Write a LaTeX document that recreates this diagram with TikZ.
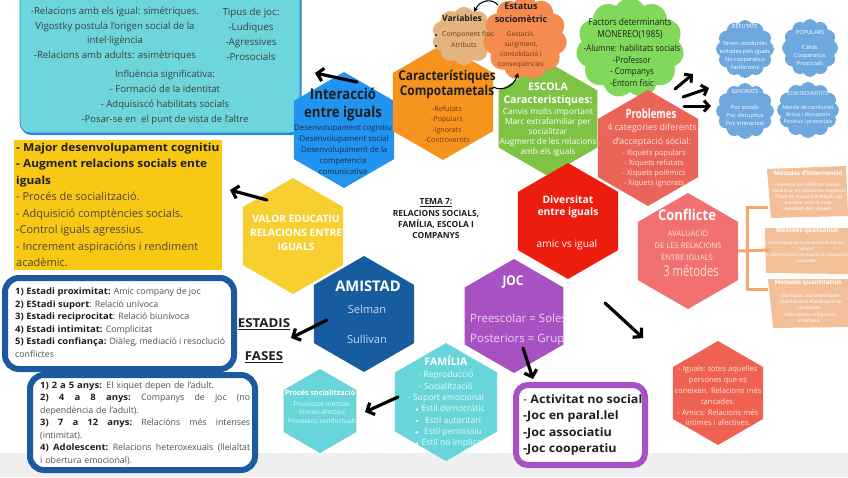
\documentclass[tikz,border=0pt]{standalone}
\usepackage{fontspec}
\setmainfont{Open Sans}
\newfontfamily\condA{Open Sans}[FakeStretch=0.75]
\newfontfamily\condB{Open Sans}[FakeStretch=0.88]
\newfontfamily\wideb{Open Sans}[FakeStretch=1.08]
\usetikzlibrary{shapes.geometric,shapes.symbols,arrows.meta}
\definecolor{cCyan}{HTML}{6CD6DC}
\definecolor{cCyanB}{HTML}{2C86DA}
\definecolor{cYel}{HTML}{F8C814}
\definecolor{cInter}{HTML}{2194F2}
\definecolor{cOrange}{HTML}{F7941E}
\definecolor{cEscola}{HTML}{7EC343}
\definecolor{cRed}{HTML}{EC1D0D}
\definecolor{cProbl}{HTML}{EA6557}
\definecolor{cConfl}{HTML}{F07170}
\definecolor{cIguals}{HTML}{EF6251}
\definecolor{cJoc}{HTML}{A751C3}
\definecolor{cAmist}{HTML}{165C9E}
\definecolor{cFam}{HTML}{67D5D9}
\definecolor{cValor}{HTML}{F8CF30}
\definecolor{cTan}{HTML}{E4B47F}
\definecolor{cOrCloud}{HTML}{F68B4F}
\definecolor{cGreenCloud}{HTML}{80D95A}
\definecolor{cBlueCloud}{HTML}{6EA8DE}
\definecolor{cMeth}{HTML}{F3BF99}
\definecolor{cBracket}{HTML}{F7A66A}
\definecolor{cFrame}{HTML}{1B5A9E}
\definecolor{cGrayBand}{HTML}{EFEFEF}
\definecolor{cDark}{HTML}{1E1E1E}
\definecolor{cGrayT}{HTML}{505050}
\definecolor{cCyTxt}{HTML}{3A4044}
\definecolor{cYTxt}{HTML}{4E4636}
\definecolor{cNavy}{HTML}{1B2B4B}
\definecolor{cBrown}{HTML}{6E3A12}
\definecolor{cLightRed}{HTML}{FDE2DA}
\definecolor{cLav}{HTML}{EBD5F5}
\definecolor{cLBlue}{HTML}{C7D9F0}
\definecolor{cLCyan}{HTML}{E6FAFA}
\newcommand\myfs[2]{\fontsize{#1}{#2}\selectfont}
\newcommand\yb[1]{{\wideb\bfseries\color{cDark}#1}}
\begin{document}
\begin{tikzpicture}[x=1pt,y=-1pt,
 hexa/.style={regular polygon, regular polygon sides=6, shape border rotate=30, inner sep=0pt, minimum size=#1, draw=none},
 blob/.style={cloud, cloud puffs=#1, cloud puff arc=120, inner sep=0pt, draw=none},
 txt/.style={inner sep=0pt, align=center, anchor=north},
 txtl/.style={inner sep=0pt, align=left, anchor=north west},
 bigarrow/.style={line width=3.2pt, line cap=round, line join=round, -{Straight Barb[length=6pt,width=13pt]}},
 curvarrow/.style={line width=1.1pt, -{Stealth[length=5pt,width=5pt]}},
 boxframe/.style={line width=6pt, draw=cFrame, fill=white, rounded corners=14pt},
 dotmark/.style={circle, fill=cLCyan, inner sep=0pt, minimum size=3pt},
]
\useasboundingbox (0,0) rectangle (848,477);
\clip (0,0) rectangle (848,477);
\fill[white] (0,0) rectangle (848,477);
\fill[cGrayBand] (0,453) rectangle (848,477);

% top-left cyan box
\fill[cCyanB, rounded corners=10pt] (21,-20) rectangle (301.5,135);
\draw[fill=cCyan, draw=cCyanB, line width=0.8pt, rounded corners=10pt] (20,-20) rectangle (300,133);
\node[txt, font=\myfs{9.6}{14.5}, text=cCyTxt] (cy1) at (115,7) {-Relacions amb els igual: simétriques.\\Vigostky postula l'origen social de la\\intel·ligència\\-Relacions amb adults: asimètriques};
\node[txt, font=\myfs{9.8}{15}, text=cCyTxt] (cy2) at (251,8) {Tipus de joc:\\-Ludiques\\-Agressives\\-Prosocials};
\node[txt, font=\myfs{9.5}{15}, text=cCyTxt] (cy3) at (165,70) {Influència significativa:\\- Formació de la identitat\\- Adquisiscó habilitats socials\\-Posar-se en\ \ el punt de vista de l'altre};

% yellow box
\fill[cYel] (14,140) rectangle (222,270);
\node[txtl, font=\myfs{11}{16.5}, text=cYTxt] (yl) at (16,142.5) {\yb{- Major desenvolupament cognitiu}\\\yb{- Augment relacions socials ente}\\\yb{iguals}\\- Procés de socialització.\\- Adquisició comptències socials.\\-Control iguals agressius.\\- Increment aspiracións i rendiment\\acadèmic.};

% estadis / fases boxes
\draw[boxframe] (5,278) rectangle (234,369);
\node[txtl, font=\myfs{8.8}{12.6}, text=cGrayT] (est) at (15,287.6) {\yb{1) Estadi proximitat:} Amic company de joc\\\yb{2) EStadi suport}: Relació unívoca\\\yb{3) Estadi reciprocitat}: Relació biunívoca\\\yb{4) Estadi intimitat:} Complicitat\\\yb{5) Estadi confiança:} Diàleg, mediació i resoclució\\conflictes};
\draw[boxframe] (30,375) rectangle (255,470);
\node[txtl, text width=210pt, font=\myfs{8.8}{12.5}, text=cGrayT] (fas) at (40,381.6) {\yb{1) 2 a 5 anys:} El xiquet depen de l'adult.\\\makebox[210pt][l]{\yb{2)}\hfill\yb{4}\hfill\yb{a}\hfill\yb{8}\hfill\yb{anys:}\hfill Companys\hfill de\hfill joc\hfill (no}\\dependència de l'adult).\\\makebox[210pt][l]{\yb{3)}\hfill\yb{7}\hfill\yb{a}\hfill\yb{12}\hfill\yb{anys:}\hfill Relacións\hfill més\hfill intenses}\\(intimitat).\\\makebox[210pt][l]{\yb{4)}\hfill\yb{Adolescent:}\hfill Relacions\hfill heteroxexuals\hfill (lleialtat}\\i obertura emocional).};
\node[font=\wideb\bfseries\myfs{12.3}{14}, text=cDark] (estadis) at (264,324) {\underline{ESTADIS}};
\node[font=\wideb\bfseries\myfs{12.3}{14}, text=cDark] (fases) at (264,357) {\underline{FASES}};

% purple list box
\draw[line width=6pt, draw=cJoc, fill=white, rounded corners=12pt] (516,385) rectangle (645,465);
\node[txtl, font=\wideb\bfseries\myfs{11.6}{16.5}, text=cDark] (jl) at (523,394) {{\mdseries -} Activitat no social\\-Joc en paral.lel\\-Joc associatiu\\-Joc cooperatiu};

% hexagons and clouds
\node[hexa=116pt, fill=cInter] (inter) at (344,130) {};
\node[hexa=116pt, fill=cOrange] (carac) at (443,102) {};
\node[blob=10, fill=cTan, minimum width=64pt, minimum height=58pt, aspect=1.1] (vars) at (464,36) {};
\node[hexa=114pt, fill=cEscola] (escola) at (548,119) {};
\node[blob=11, fill=cOrCloud, minimum width=84pt, minimum height=84pt, aspect=1] (estat) at (525,38) {};
\node[blob=11, fill=cGreenCloud, minimum width=108pt, minimum height=100pt, aspect=1.08] (factors) at (630,48) {};
\node[hexa=116pt, fill=cProbl] (probl) at (648,148) {};
\node[hexa=116pt, fill=cRed] (divers) at (568,221) {};
\node[hexa=116pt, fill=cConfl] (confl) at (688,251) {};
\node[hexa=116pt, fill=cValor] (valor) at (293,236) {};
\node[hexa=116pt, fill=cAmist] (amist) at (364,314) {};
\node[hexa=114pt, fill=cJoc] (joc) at (514,316) {};
\node[hexa=118pt, fill=cFam] (famil) at (446,402) {};
\node[hexa=84pt, fill=cFam] (proces) at (320,411) {};
\node[hexa=104pt, fill=cIguals] (iguals) at (718,393) {};
\node[blob=12, fill=cBlueCloud, minimum width=58pt, minimum height=58pt, aspect=1] (ref) at (745,49) {};
\node[blob=12, fill=cBlueCloud, minimum width=56pt, minimum height=58pt, aspect=0.97] (pop) at (810,48) {};
\node[blob=12, fill=cBlueCloud, minimum width=58pt, minimum height=56pt, aspect=1.04] (ign) at (745,111) {};
\node[blob=12, fill=cBlueCloud, minimum width=62pt, minimum height=56pt, aspect=1.1] (contr) at (808,110) {};

% method boxes
\fill[cMeth] (767,169) -- (846,166) -- (848,216) -- (771,218) -- cycle;
\fill[cMeth] (765,228) -- (848,228) -- (848,274) -- (766,273) -- cycle;
\fill[cMeth] (768,279) -- (848,279) -- (848,327) -- (773,328) -- cycle;
\coordinate (m1) at (768,207);
\coordinate (m2) at (770,250);
\coordinate (m3) at (768,289);
\coordinate (mv1) at (747,207);
\coordinate (mv3) at (747,289);
\draw[cBracket, line width=3pt] (confl.east) -- (m2);
\draw[cBracket, line width=3pt] (m1) -- (mv1) -- (mv3) -- (m3);

% texts in hexagons
\node[txt, font=\condB\bfseries\myfs{15}{18}, text=cDark] (interT) at (343,87.5) {Interacció\\entre iguals};
\node[txt, font=\myfs{7.8}{11.2}, text=cNavy] (interL) at (343,124) {Desenvolupament cognitiu\\-Desenvolupament social\\-Desenvolupament de la\\competencia\\comunicativa};
\node[txt, font=\condB\bfseries\myfs{13.5}{15}, text=cDark] (caracT) at (447,69.5) {Característiques\\Compotametals};
\node[txt, font=\myfs{7.1}{10.5}, text=cBrown] (caracL) at (447,105.5) {-Refutats\\-Populars\\-Ignorats\\-Controvertits};
\node[txt, font=\bfseries\myfs{10.5}{13}, text=white] (escT) at (548,83) {ESCOLA\\Caracteristiques:};
\node[txt, font=\myfs{8.3}{10}, text=white] (escL) at (548,108) {Canvis molts important\\Marc extrafamiliar per\\socialitzar\\Augment de les relacions\\amb els iguals};
\node[txt, font=\bfseries\myfs{10.3}{12.5}, text=white] (divT) at (568,195) {Diversitat\\entre iguals};
\node[txt, font=\myfs{10.2}{12}, text=white] (divL) at (567,240) {amic vs igual};
\node[txt, font=\condA\bfseries\myfs{12.8}{16}, text=white] (probT) at (651,108.5) {Problemes};
\node[txt, font=\myfs{8.9}{14}, text=cLightRed] (probS) at (652,123.5) {4 categories diferents\\d'acceptació social:};
\node[txt, font=\myfs{7.5}{10}, text=cLightRed] (probL) at (654,150) {- Xiquets populars\\- Xiquets refutats\\- Xiquets polèmics\\- Xiquets ignorats};
\node[txt, font=\condB\bfseries\myfs{14.8}{16}, text=white] (confT) at (687,208.5) {Conflicte};
\node[txt, font=\myfs{7.7}{12}, text=cLightRed] (confS) at (688,229) {AVALUACIÓ\\DE LES RELACIONS\\ENTRE IGUALS:};
\node[txt, font=\condA\myfs{15}{16}, text=cLightRed] (confM) at (691,264.5) {3 métodes};
\node[txt, font=\myfs{7.6}{10.8}, text=cLightRed] (igL) at (718,366) {- Iguals: totes aquelles\\persones que es\\coneixen. Relacions més\\tancades.\\- Amics: Relacions més\\íntimes i afectives.};
\node[txt, font=\condB\bfseries\myfs{13.5}{15}, text=white] (jocT) at (513,275.5) {JOC};
\node[txtl, font=\myfs{11.5}{20}, text=cLav] (jocL) at (470,314) {Preescolar = Soles\\Posteriors = Grup};
\node[txt, font=\bfseries\myfs{14.7}{16}, text=white] (amT) at (368,281) {AMISTAD};
\node[txt, font=\myfs{11.1}{30}, text=cLBlue] (amL) at (367,304.5) {Selman\\Sullivan};
\node[txt, font=\bfseries\myfs{10.5}{12}, text=white] (famT) at (446,356) {FAMÍLIA};
\node[txt, font=\myfs{8.6}{11.4}, text=cLCyan] (famL) at (446,371) {- Reproducció\\- Socialització\\- Suport emocional};
\node[dotmark] (fb1) at (417,409.5) {};
\node[dotmark] (fb2) at (417,420.9) {};
\node[dotmark] (fb3) at (417,432.3) {};
\node[dotmark] (fb4) at (417,443.7) {};
\node[txt, font=\myfs{8.6}{11.4}, text=cLCyan] (famE) at (453,405) {Estil democràtic\\Estil autoritari\\Estil permissiu\\Estil no implicat};
\node[txt, font=\bfseries\myfs{7.3}{9}, text=white] (prT) at (320,389.5) {Procés socialització};
\node[txt, font=\myfs{6.5}{8.5}, text=cLCyan] (prL) at (320,401) {- Processos mentals\\- Vincles afectius\\- Processos conductuals};
\node[txt, font=\bfseries\myfs{10.2}{14}, text=white] (valT) at (296,215) {VALOR EDUCATIU\\RELACIONS ENTRE\\IGUALS};
\node[txt, font=\bfseries\myfs{8.4}{11.4}, text=cDark] (tema) at (436,198.5) {\underline{TEMA 7:}\\RELACIONS SOCIALS,\\FAMÍLIA, ESCOLA I\\COMPANYS};

% cloud texts
\node[txt, font=\bfseries\myfs{8.6}{11}, text=cDark] (varT) at (462,14.5) {Variables};
\node[circle, fill=cDark, inner sep=0pt, minimum size=2.4pt] (vb1) at (436,35) {};
\node[circle, fill=cDark, inner sep=0pt, minimum size=2.4pt] (vb2) at (436,46) {};
\node[txtl, font=\myfs{6.9}{11}, text=cBrown] (varL) at (442,31) {Component fisic\\\hspace{9pt}Atributs};
\node[txt, font=\bfseries\myfs{9}{13}, text=cDark] (estT) at (521,2.5) {Estatus\\sociomètric};
\node[txt, font=\myfs{6.6}{10}, text=cBrown] (estL) at (521,31) {Gestació,\\surgiment,\\consolidació i\\conseqüències};
\node[txt, font=\condB\myfs{9.5}{12}, text=cDark] (facT) at (630,18) {Factors determinants\\MONEREO(1985)};
\node[txt, font=\condB\myfs{9}{11.7}, text=cDark] (facL) at (632,44.5) {-Alumne: habilitats socials\\-Professor\\- Companys\\-Entorn fisic};
\node[txt, font=\myfs{5.6}{7}, text=white] (refT) at (745,24.5) {REFUTATS};
\node[txt, font=\myfs{5.6}{8}, text=white] (refL) at (745,41) {Tenen conductes\\evitades pels iguals\\No cooperatius\\Fanfarrons};
\node[txt, font=\myfs{5.6}{7}, text=white] (popT) at (810,30.5) {POPULARS};
\node[txt, font=\myfs{5.6}{8}, text=white] (popL) at (810,45) {Càlids\\Cooperatius\\Prosocials};
\node[txt, font=\myfs{5.6}{7}, text=white] (ignT) at (745,89.5) {IGNORATS};
\node[txt, font=\myfs{5.6}{8}, text=white] (ignL) at (745,105) {Poc socials\\Poc disruptius\\Poc interactius};
\node[txt, font=\myfs{5.2}{7}, text=white] (conT) at (808,91.5) {CONTROVERTITS};
\node[txt, font=\myfs{5.3}{7.2}, text=white] (conL) at (808,105.2) {Mescla de conductes\\Actius i disruptors\\Positius i prosocials};

% method texts
\node[txt, font=\bfseries\myfs{6.2}{7}, text=white] (m1T) at (808,171) {Métodes d'intervenció};
\node[txt, font=\myfs{4.7}{6}, text=white] (m1L) at (808,182.5) {- Entrenar les habilitats socials.\\- Modificar les conductes negatives\\- Posar en marxa estratègies per\\a acabar amb la mala\\reputació dels xiquets.};
\node[txt, font=\bfseries\myfs{6.2}{7}, text=white] (m2T) at (807,228) {Métodes qualitatius};
\node[txt, font=\myfs{4.4}{6}, text=white] (m2L) at (806,240.5) {L'observació de la conducta en l'ambit\\natural.\\La representació de papers en situacions\\simulades};
\node[txt, font=\bfseries\myfs{6.2}{7}, text=white] (m3T) at (808,280) {Métodes quantitatius};
\node[txt, font=\myfs{4.9}{6.2}, text=white] (m3L) at (809,293.5) {- Tècniques sociomètriques\\- Questionaris d'avaluació de\\conductes\\- Valoracions mitjançant\\inventaris};

% big hand-drawn arrows
\coordinate (aI1) at (357,82); \coordinate (aI2) at (315,73);
\coordinate (aV1) at (267,200); \coordinate (aV2) at (230,190);
\coordinate (aA1) at (327,320); \coordinate (aA2) at (291,338);
\coordinate (aF1) at (398,397); \coordinate (aF2) at (365,412);
\coordinate (aJ1) at (523,348); \coordinate (aJ2) at (533,379);
\coordinate (aD1) at (605,303); \coordinate (aD2) at (643,338);
\coordinate (aP1) at (675,89); \coordinate (aP2) at (693,74);
\coordinate (aQ1) at (683,97); \coordinate (aQ2) at (709,88);
\coordinate (aR1) at (684,106); \coordinate (aR2) at (711,106);
\draw[bigarrow] (aI1) -- (aI2);
\draw[bigarrow] (aV1) -- (aV2);
\draw[bigarrow] (aA1) -- (aA2);
\draw[bigarrow] (aF1) -- (aF2);
\draw[bigarrow] (aJ1) -- (aJ2);
\draw[bigarrow] (aD1) -- (aD2);
\draw[bigarrow, line width=3pt, -{Straight Barb[length=5pt,width=11pt]}] (aP1) -- (aP2);
\draw[bigarrow, line width=3pt, -{Straight Barb[length=5pt,width=11pt]}] (aQ1) -- (aQ2);
\draw[bigarrow, line width=3pt, -{Straight Barb[length=5pt,width=11pt]}] (aR1) -- (aR2);

% small curved arrows
\coordinate (c1a) at (498,5); \coordinate (c1b) at (474,12);
\draw[curvarrow] (c1a) .. controls (492,-2) and (480,0) .. (c1b);
\coordinate (c2a) at (493,87); \coordinate (c2b) at (518,73);
\draw[curvarrow] (c2a) .. controls (503,92) and (514,86) .. (c2b);
\end{tikzpicture}
\end{document}
